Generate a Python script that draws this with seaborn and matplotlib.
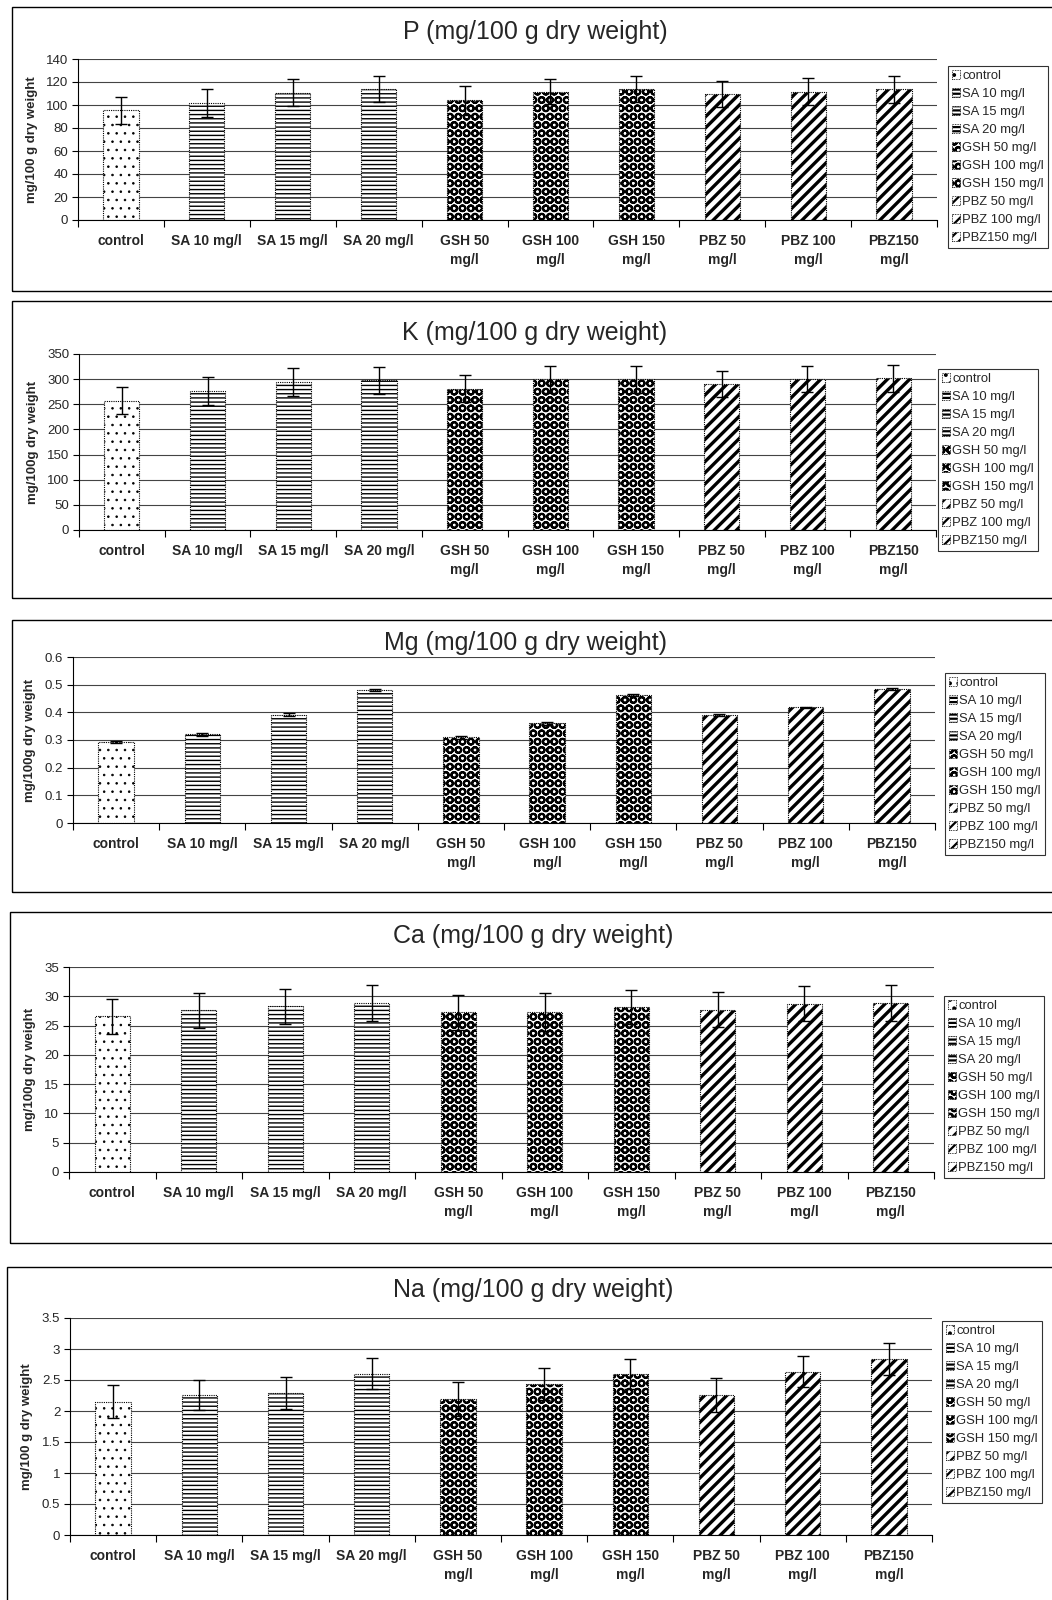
import numpy as np
import matplotlib
matplotlib.use('Agg')
import matplotlib.pyplot as plt
import seaborn as sns
from matplotlib.patches import Patch, Rectangle

categories = ['control', 'SA 10 mg/l', 'SA 15 mg/l', 'SA 20 mg/l', 'GSH 50 mg/l',
              'GSH 100 mg/l', 'GSH 150 mg/l', 'PBZ 50 mg/l', 'PBZ 100 mg/l', 'PBZ150 mg/l']
tick_labels = ['control', 'SA 10 mg/l', 'SA 15 mg/l', 'SA 20 mg/l', 'GSH 50\nmg/l',
               'GSH 100\nmg/l', 'GSH 150\nmg/l', 'PBZ 50\nmg/l', 'PBZ 100\nmg/l', 'PBZ150\nmg/l']

p_mean = [95.3, 101.7, 110.7, 113.9, 104.0, 111.6, 113.6, 109.6, 111.6, 113.6]
p_err = [12.0, 12.0, 12.0, 11.3, 12.5, 11.0, 11.4, 11.4, 12.0, 12.0]

k_mean = [257, 277, 295, 298, 281, 300, 300, 291, 300, 302]
k_err = [27, 28, 28, 27, 27, 27, 27, 26, 26, 27]

mg_mean = [0.292, 0.32, 0.392, 0.48, 0.31, 0.36, 0.462, 0.39, 0.418, 0.485]
mg_err = [0.004, 0.005, 0.004, 0.004, 0.005, 0.004, 0.004, 0.004, 0.003, 0.004]

ca_mean = [26.6, 27.6, 28.3, 28.9, 27.3, 27.3, 28.1, 27.7, 28.75, 28.9]
ca_err = [3.0, 3.0, 3.0, 3.1, 3.0, 3.2, 2.9, 3.0, 3.05, 3.1]

na_mean = [2.15, 2.26, 2.29, 2.60, 2.19, 2.44, 2.60, 2.26, 2.63, 2.84]
na_err = [0.27, 0.24, 0.26, 0.25, 0.27, 0.26, 0.24, 0.27, 0.25, 0.26]

titles = ['P (mg/100 g dry weight)', 'K (mg/100 g dry weight)', 'Mg (mg/100 g dry weight)',
          'Ca (mg/100 g dry weight)', 'Na (mg/100 g dry weight)']
ylabels = ['mg/100 g dry weight', 'mg/100g dry weight', 'mg/100g dry weight',
           'mg/100g dry weight', 'mg/100 g dry weight']
y_ticks = [[0, 20, 40, 60, 80, 100, 120, 140],
           [0, 50, 100, 150, 200, 250, 300, 350],
           [0, 0.1, 0.2, 0.3, 0.4, 0.5, 0.6],
           [0, 5, 10, 15, 20, 25, 30, 35],
           [0, 0.5, 1, 1.5, 2, 2.5, 3, 3.5]]

# fill patterns per treatment group
hatches = ['..', '----', '----', '----', 'OO', 'OO', 'OO', '///', '///', '///']
hatch_lw = [0.6, 1.0, 1.0, 1.0, 1.5, 1.5, 1.5, 2.4, 2.4, 2.4]

sns.set_theme(style='white')
plt.rcParams['font.family'] = ['Liberation Sans', 'DejaVu Sans']
plt.rcParams['hatch.linewidth'] = 1.6

W, H = 1052, 1600
fig = plt.figure(figsize=(W / 100, H / 100), dpi=100)


def frac(left, top, right, bottom):
    return [left / W, 1 - bottom / H, (right - left) / W, (bottom - top) / H]


def style_patch(patch, h, lw):
    patch.set_hatch(h)
    patch.set_linestyle((0, (1, 1)))
    if hasattr(patch, 'set_hatch_linewidth'):
        patch.set_hatch_linewidth(lw)


# layout in pixels: axes box, legend top-left, title centre, panel frame
layout = [
    dict(ax=(78, 59, 937, 220), leg=(948, 66), title=(535, 32), frame=(12, 7, 291)),
    dict(ax=(79, 354, 936, 530), leg=(938, 369), title=(535, 333), frame=(12, 301, 598)),
    dict(ax=(73, 657, 935, 823), leg=(945, 673), title=(525, 643), frame=(12, 620, 892)),
    dict(ax=(69, 967, 934, 1172), leg=(944, 996), title=(533, 936), frame=(10, 912, 1243)),
    dict(ax=(70, 1318, 932, 1535), leg=(942, 1321), title=(533, 1290), frame=(7, 1267, 1640)),
]
means = [p_mean, k_mean, mg_mean, ca_mean, na_mean]
errs = [p_err, k_err, mg_err, ca_err, na_err]

for i in range(5):
    lay = layout[i]
    ax = fig.add_axes(frac(*lay['ax']))
    sns.barplot(x=categories, y=means[i], ax=ax, color='white', saturation=1,
                width=0.41, edgecolor='black', linewidth=0.8)
    for patch, h, lw in zip(ax.patches, hatches, hatch_lw):
        style_patch(patch, h, lw)
    ax.errorbar(np.arange(len(categories)), means[i], yerr=errs[i], fmt='none',
                ecolor='black', elinewidth=1, capsize=4, capthick=1, zorder=5)

    ticks = y_ticks[i]
    ax.set_ylim(ticks[0], ticks[-1])
    ax.set_yticks(ticks)
    ax.set_yticklabels(['{:g}'.format(t) for t in ticks], fontsize=9.5)
    ax.yaxis.grid(True, color='#444444', linewidth=0.8)
    ax.set_axisbelow(True)
    ax.set_xlim(-0.5, len(categories) - 0.5)
    ax.set_xticks(np.arange(len(categories) + 1) - 0.5)
    ax.set_xticklabels([])
    ax.set_xticks(np.arange(len(categories)), minor=True)
    ax.set_xticklabels(tick_labels, minor=True, fontsize=10, fontweight='bold',
                       linespacing=1.5)
    ax.tick_params(axis='x', which='major', direction='out', length=5, width=0.8,
                   color='black', bottom=True)
    ax.tick_params(axis='x', which='minor', length=0, pad=10)
    ax.tick_params(axis='y', direction='out', length=4, width=0.8, color='black',
                   left=True, pad=3)
    ax.set_xlabel('')
    ax.set_ylabel(ylabels[i], fontsize=9.5, fontweight='bold', labelpad=6)
    for side in ['top', 'right']:
        ax.spines[side].set_visible(False)
    for side in ['left', 'bottom']:
        ax.spines[side].set_color('black')
        ax.spines[side].set_linewidth(0.8)

    handles = []
    for h, lw in zip(hatches, hatch_lw):
        hp = Patch(facecolor='white', edgecolor='black', linewidth=0.6)
        style_patch(hp, h, lw * 0.6)
        handles.append(hp)
    lx, ly = lay['leg']
    leg = ax.legend(handles, categories, loc='upper left',
                    bbox_to_anchor=(lx / W, 1 - ly / H), bbox_transform=fig.transFigure,
                    fontsize=9.4, frameon=True, fancybox=False, handlelength=0.6,
                    handleheight=0.7, handletextpad=0.2, labelspacing=0.45,
                    borderpad=0.3, borderaxespad=0)
    leg.get_frame().set_edgecolor('black')
    leg.get_frame().set_linewidth(0.8)

    tx, ty = lay['title']
    fig.text(tx / W, 1 - ty / H, titles[i], ha='center', va='center', fontsize=18)

    fl, ft, fb = lay['frame']
    fig.patches.append(Rectangle((fl / W, 1 - fb / H), (W + 20 - fl) / W, (fb - ft) / H,
                                 transform=fig.transFigure, fill=False,
                                 edgecolor='black', linewidth=1, clip_on=False))

fig.savefig('out.png', dpi=100)
